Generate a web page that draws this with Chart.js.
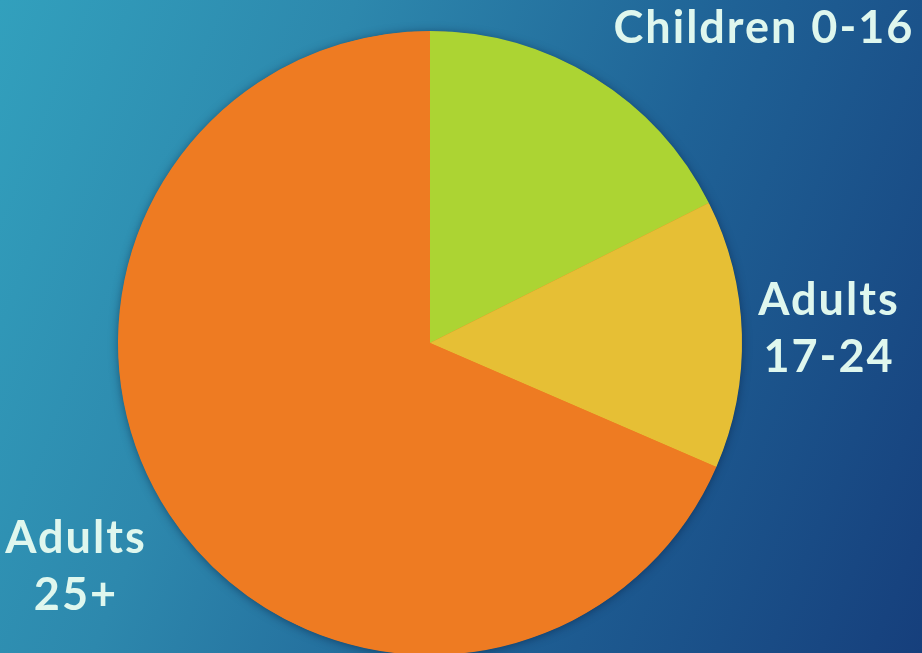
<!DOCTYPE html>
<html>
<head>
<meta charset="utf-8">
<title>Age groups</title>
<script src="https://cdn.jsdelivr.net/npm/chart.js@4"></script>
<style>
  html, body {
    margin: 0;
    padding: 0;
    width: 922px;
    height: 653px;
    overflow: hidden;
  }
  body {
    background: linear-gradient(112deg, #32a0bd 0%, #2d88ad 30%, #1f6296 62%, #163f7c 100%);
  }
  #wrap {
    position: relative;
    width: 922px;
    height: 700px;
  }
</style>
</head>
<body>
<div id="wrap"><canvas id="agePie"></canvas></div>
<script>
// parts of the total, in percent
const groups = ["Children 0-16", "Adults 17-24", "Adults 25+"];
const shares = [17.6, 13.9, 68.5];
const sliceColors = ["#acd433", "#e6bf35", "#ee7b22"];

// text for each slice, one entry per line
const labelLines = [["Children 0-16"], ["Adults", "17-24"], ["Adults", "25+"]];
const labelSpots = [
  { x: 764, y: 43 },
  { x: 829, y: 315 },
  { x: 76, y: 553 }
];

// soft shadow behind the whole disc (drawn once, so slice edges stay clean)
const pieShadow = {
  id: "pieShadow",
  beforeDatasetsDraw(chart) {
    const arc = chart.getDatasetMeta(0).data[0];
    if (!arc) return;
    const ctx = chart.ctx;
    ctx.save();
    ctx.shadowColor = "rgba(0, 20, 50, 0.5)";
    ctx.shadowBlur = 10;
    ctx.shadowOffsetY = 1;
    ctx.fillStyle = sliceColors[2];
    ctx.beginPath();
    ctx.arc(arc.x, arc.y, arc.outerRadius - 0.5, 0, Math.PI * 2);
    ctx.fill();
    ctx.restore();
  }
};

// big labels set around the pie
const sliceLabels = {
  id: "sliceLabels",
  afterDraw(chart) {
    const ctx = chart.ctx;
    ctx.save();
    ctx.fillStyle = "#dff7ee";
    ctx.font = "bold 45px Lato, 'Open Sans', sans-serif";
    ctx.letterSpacing = "2px";
    ctx.textAlign = "center";
    ctx.textBaseline = "alphabetic";
    labelLines.forEach((lines, i) => {
      lines.forEach((line, j) => {
        ctx.fillText(line, labelSpots[i].x, labelSpots[i].y + j * 57);
      });
    });
    ctx.restore();
  }
};

document.addEventListener("DOMContentLoaded", function () {
  const ctx = document.getElementById("agePie").getContext("2d");
  new Chart(ctx, {
    type: "pie",
    data: {
      labels: groups,
      datasets: [
        {
          data: shares,
          backgroundColor: sliceColors,
          borderWidth: 0
        }
      ]
    },
    options: {
      responsive: true,
      maintainAspectRatio: false,
      animation: false,
      layout: {
        padding: { left: 118, right: 180, top: 31, bottom: 45 }
      },
      plugins: {
        legend: { display: false },
        tooltip: { enabled: false }
      }
    },
    plugins: [pieShadow, sliceLabels]
  });
});
</script>
</body>
</html>
